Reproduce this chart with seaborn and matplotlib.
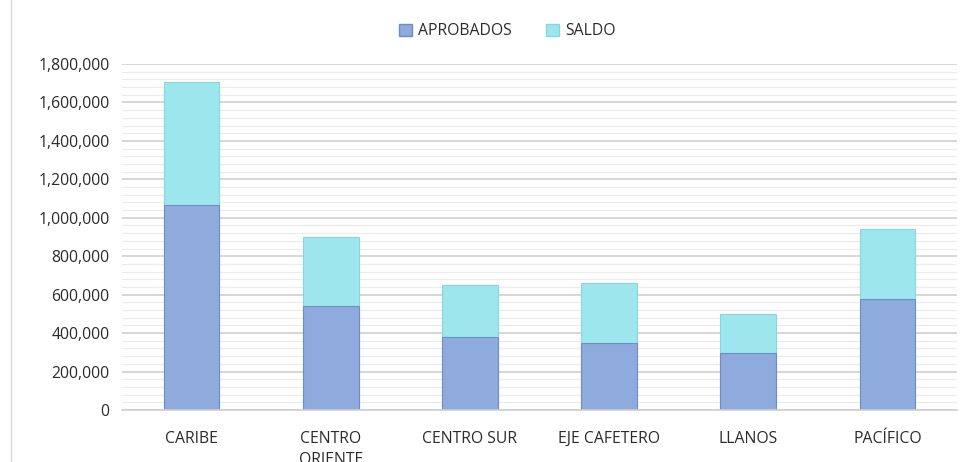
import pandas as pd
import matplotlib
matplotlib.use("Agg")
import matplotlib.pyplot as plt
import seaborn as sns
from matplotlib.ticker import MultipleLocator, FuncFormatter
from matplotlib.patches import Patch
from matplotlib.lines import Line2D

# Datos
regiones = ["CARIBE", "CENTRO\nORIENTE", "CENTRO SUR", "EJE CAFETERO", "LLANOS", "PACÍFICO"]
aprobados = [1067000, 541000, 380000, 349000, 298000, 577000]
saldo = [639000, 359000, 270000, 312000, 202000, 365000]

df = pd.DataFrame({"region": regiones, "aprobados": aprobados, "saldo": saldo})
df["total"] = df["aprobados"] + df["saldo"]

sns.set_style("white")
plt.rcParams["font.family"] = ["Open Sans", "DejaVu Sans"]

c_aprob = "#8faadc"
c_saldo = "#9de6ee"
txt = "#2b2b2b"
fs = 11.3

fig = plt.figure(figsize=(9.63, 4.62), dpi=100)
ax = fig.add_axes([122 / 963, 1 - 410 / 462, (957 - 122) / 963, (410 - 64) / 462])

sns.barplot(data=df, x="region", y="total", color=c_saldo, width=0.4,
            edgecolor="#86d6e0", linewidth=0.8, saturation=1, ax=ax)
sns.barplot(data=df, x="region", y="aprobados", color=c_aprob, width=0.4,
            edgecolor="#6f8cc4", linewidth=0.8, saturation=1, ax=ax)

ax.set_ylim(0, 1800000)
ax.set_xlim(-0.5, 5.5)
ax.yaxis.set_major_locator(MultipleLocator(200000))
ax.yaxis.set_minor_locator(MultipleLocator(40000))
ax.yaxis.set_major_formatter(FuncFormatter(lambda v, p: f"{int(v):,}"))
ax.grid(axis="y", which="major", color="#cfcfcf", linewidth=1.2)
ax.grid(axis="y", which="minor", color="#ececec", linewidth=0.9)
ax.set_axisbelow(True)
for s in ["top", "right", "left"]:
    ax.spines[s].set_visible(False)
ax.spines["bottom"].set_color("#cfcfcf")
ax.spines["bottom"].set_linewidth(1.2)
ax.tick_params(axis="both", which="both", length=0, labelsize=fs, colors=txt)
ax.tick_params(axis="y", pad=9)
ax.tick_params(axis="x", pad=15)
for lbl in ax.get_xticklabels():
    lbl.set_verticalalignment("top")
    lbl.set_linespacing(1.45)
ax.set_xlabel("")
ax.set_ylabel("")

handles = [Patch(facecolor=c_aprob, edgecolor="#6f8cc4", label="APROBADOS"),
           Patch(facecolor=c_saldo, edgecolor="#86d6e0", label="SALDO")]
fig.legend(handles=handles, loc="center", bbox_to_anchor=(0.527, 1 - 31 / 462), ncol=2,
           frameon=False, fontsize=fs, handlelength=0.8, handleheight=0.8,
           handletextpad=0.4, columnspacing=2.2, labelcolor=txt)

# borde izquierdo del cuadro
fig.add_artist(Line2D([11 / 963, 11 / 963], [0, 1], color="#d9d9d9", linewidth=1))

fig.savefig("out.png", dpi=100)
